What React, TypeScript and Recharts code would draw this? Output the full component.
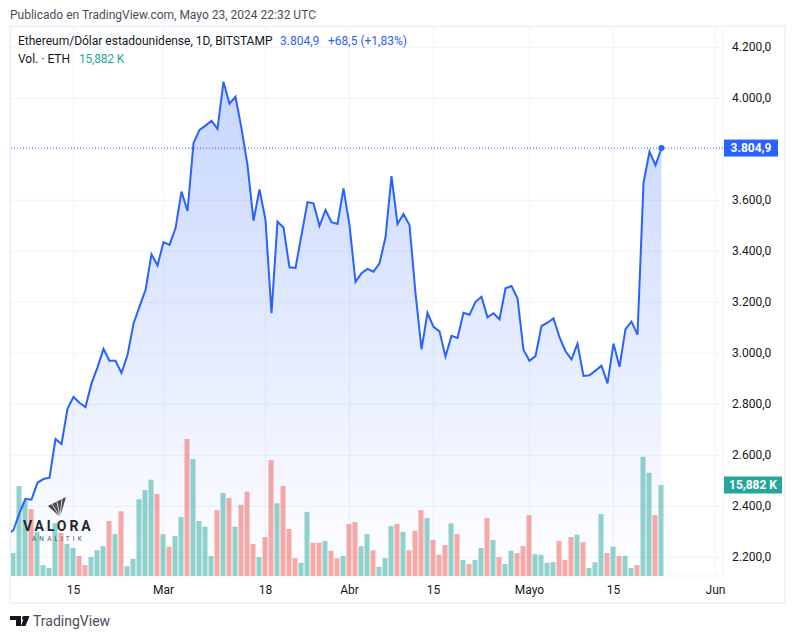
import React from "react";
import {
  ComposedChart,
  Area,
  Bar,
  Line,
  XAxis,
  YAxis,
  CartesianGrid,
  ReferenceLine,
  ReferenceDot,
} from "recharts";

// daily closes, first entry is the day clipped by the left edge (Feb 4)
const closes = [
  2288, 2307, 2374, 2429, 2426, 2493, 2507, 2512, 2664, 2644, 2782, 2829, 2806, 2789, 2882, 2945,
  3017, 2971, 2971, 2923, 2993, 3116, 3183, 3248, 3388, 3344, 3436, 3425, 3490, 3634, 3558, 3824,
  3876, 3893, 3912, 3880, 4065, 3979, 4006, 3882, 3738, 3520, 3643, 3523, 3157, 3516, 3493, 3337,
  3335, 3464, 3593, 3588, 3499, 3562, 3514, 3507, 3647, 3503, 3280, 3314, 3331, 3320, 3353, 3455,
  3695, 3507, 3546, 3503, 3236, 3016, 3159, 3104, 3086, 2987, 3069, 3060, 3159, 3151, 3202, 3222,
  3141, 3157, 3133, 3255, 3264, 3216, 3013, 2971, 2989, 3107, 3120, 3137, 3063, 3008, 2976, 3038,
  2911, 2914, 2932, 2951, 2882, 3038, 2947, 3095, 3124, 3073, 3667, 3791, 3737, 3804.9,
];

// volume in thousands of ETH, from Feb 5
const volumes = [
  4.0, 15.7, 13.1, 11.7, 7.7, 1.9, 1.4, 9.2, 7.5, 5.6, 4.9, 3.5, 1.9, 3.3, 4.5, 5.2, 9.6, 7.3,
  11.3, 1.7, 3.0, 13.4, 15.0, 16.8, 14.3, 7.3, 5.1, 7.0, 10.3, 23.9, 20.4, 9.6, 8.6, 3.5, 11.5,
  14.5, 13.6, 8.6, 12.4, 14.7, 5.6, 3.3, 6.8, 20.2, 12.7, 15.7, 8.2, 3.1, 2.3, 11.2, 5.8, 5.8, 6.1,
  4.4, 3.1, 3.5, 9.1, 9.4, 5.2, 7.3, 4.5, 1.6, 3.1, 8.7, 9.1, 7.7, 4.5, 7.9, 11.5, 10.1, 6.3, 3.7,
  5.4, 9.2, 7.3, 2.8, 2.1, 2.8, 4.9, 10.1, 6.3, 3.3, 2.1, 4.4, 4.0, 5.2, 10.6, 3.8, 3.7, 2.3, 2.4,
  6.1, 2.8, 6.8, 7.2, 5.9, 1.4, 2.4, 10.8, 4.0, 5.1, 3.5, 3.5, 1.4, 1.9, 20.8, 18.0, 10.6, 15.882,
];

// t = teal bar, r = red bar
const volumeColors =
  "tttrttttrttrrtttrtrtttttrtrttrttttrtrtrrrtrrtrrrttrrtrrtrrttrtttrtrrrtrrrtrtrttrtrttrrrttttrrrtrtttrtrttrttrt";

const xTicks = [10, 25, 42, 56, 70, 86, 100, 117];
const xLabels = ["15", "Mar", "18", "Abr", "15", "Mayo", "15", "Jun"];
const priceTicks = [2200, 2400, 2600, 2800, 3000, 3200, 3400, 3600, 3800, 4000, 4200];
// 3.800,0 sits under the last price tag, so it has no label
const priceLabels = [
  "2.200,0", "2.400,0", "2.600,0", "2.800,0", "3.000,0", "3.200,0",
  "3.400,0", "3.600,0", "", "4.000,0", "4.200,0",
];
const lastClose = 3804.9;
const lastVolume = 15.882;

const rows = closes.map((close, i) => {
  const vol = i > 0 ? volumes[i - 1] : null;
  const isTeal = i > 0 && volumeColors[i - 1] === "t";
  return {
    day: i - 1,
    close,
    volTeal: isTeal ? vol : null,
    volRed: !isTeal ? vol : null,
  };
});

const FONT = "Roboto, sans-serif";
const GRID = "#f0f3fa";
const BLUE = "#2962ff";
const TEAL = "#26a69a";

const AxisTag = ({ viewBox, text, fill, width }: any) => {
  if (!viewBox) return null;
  const x = viewBox.x + viewBox.width + 1;
  const y = viewBox.y;
  return (
    <g>
      <rect x={x} y={y - 8.5} width={width} height={17} fill={fill} />
      <text
        x={x + width / 2}
        y={y + 4}
        textAnchor="middle"
        fontFamily={FONT}
        fontSize={12}
        fontWeight={700}
        fill="#ffffff"
      >
        {text}
      </text>
    </g>
  );
};

const label = (left: number, top: number, color: string, fontSize = 12, lineHeight = 16): React.CSSProperties => ({
  position: "absolute",
  left,
  top,
  color,
  fontSize,
  fontFamily: FONT,
  lineHeight: `${lineHeight}px`,
  whiteSpace: "nowrap",
});

export default function App() {
  return (
    <div style={{ position: "absolute", left: 0, top: 0, width: 796, height: 639, background: "#fff", overflow: "hidden" }}>
      <div style={{ position: "absolute", left: 9, top: 25, width: 777, height: 579, boxSizing: "border-box", border: `2px solid ${GRID}` }} />

      <div style={{ position: "absolute", left: 0, top: 0 }}>
        <ComposedChart
          width={796}
          height={639}
          data={rows}
          margin={{ top: 27, right: 11, bottom: 36, left: 11 }}
        >
          <defs>
            <linearGradient id="closeFill" x1="0" y1="0" x2="0" y2="1">
              <stop offset="0%" stopColor={BLUE} stopOpacity={0.26} />
              <stop offset="100%" stopColor={BLUE} stopOpacity={0} />
            </linearGradient>
          </defs>
          <CartesianGrid yAxisId="price" stroke={GRID} strokeWidth={1} />
          <XAxis
            dataKey="day"
            type="number"
            scale="linear"
            domain={[-0.4167, 118.25]}
            allowDataOverflow
            ticks={xTicks}
            interval={0}
            tickFormatter={(v: number) => xLabels[xTicks.indexOf(v)]}
            height={27}
            tickLine={false}
            axisLine={false}
            tickSize={0}
            tickMargin={9}
            tick={{ fill: "#131722", fontSize: 12, fontFamily: FONT }}
          />
          <YAxis
            yAxisId="price"
            orientation="right"
            width={62}
            domain={[2126.7, 4279.6]}
            allowDataOverflow
            ticks={priceTicks}
            interval={0}
            tickFormatter={(v: number) => priceLabels[priceTicks.indexOf(v)]}
            tickLine={false}
            axisLine={false}
            tickSize={0}
            tickMargin={9}
            tick={{ fill: "#131722", fontSize: 12, fontFamily: FONT, textAnchor: "start", dy: -1 }}
          />
          <YAxis yAxisId="vol" hide domain={[0, 95.8]} allowDataOverflow />
          <Area
            yAxisId="price"
            dataKey="close"
            type="linear"
            stroke="none"
            fill="url(#closeFill)"
            fillOpacity={1}
            dot={false}
            activeDot={false}
            isAnimationActive={false}
          />
          <Bar yAxisId="vol" dataKey="volTeal" stackId="vol" barSize={5} fill={TEAL} fillOpacity={0.5} isAnimationActive={false} />
          <Bar yAxisId="vol" dataKey="volRed" stackId="vol" barSize={5} fill="#ef5350" fillOpacity={0.5} isAnimationActive={false} />
          <ReferenceLine
            yAxisId="price"
            y={lastClose}
            stroke={BLUE}
            strokeWidth={1}
            strokeDasharray="1 2"
            label={<AxisTag text="3.804,9" fill={BLUE} width={54} />}
          />
          <ReferenceLine
            yAxisId="vol"
            y={lastVolume}
            stroke="none"
            label={<AxisTag text="15,882 K" fill={TEAL} width={58} />}
          />
          <Line
            yAxisId="price"
            dataKey="close"
            type="linear"
            stroke={BLUE}
            strokeWidth={2}
            dot={false}
            activeDot={false}
            isAnimationActive={false}
          />
          <ReferenceDot yAxisId="price" x={108} y={lastClose} r={3} fill={BLUE} stroke="none" />
        </ComposedChart>
      </div>

      <div style={label(10, 7, "#4a4e5a")}>Publicado en TradingView.com, Mayo 23, 2024 22:32 UTC</div>
      <div style={label(18, 33, "#131722")}>Ethereum/Dólar estadounidense, 1D, BITSTAMP</div>
      <div style={label(280, 33, BLUE)}>3.804,9</div>
      <div style={label(328, 33, BLUE)}>+68,5 (+1,83%)</div>
      <div style={label(18, 51, "#131722")}>Vol. · ETH</div>
      <div style={{ ...label(79, 51, TEAL), letterSpacing: -0.2 }}>15,882 K</div>

      {/* Valora watermark */}
      <svg style={{ position: "absolute", left: 46, top: 495 }} width={22} height={24}>
        <polygon points="2,11 20,2 14,22" fill="#4a4a52" />
        <line x1="14" y1="22" x2="6" y2="9" stroke="#fff" strokeWidth={0.8} />
        <line x1="14" y1="22" x2="11" y2="7" stroke="#fff" strokeWidth={0.8} />
        <line x1="14" y1="22" x2="16" y2="4" stroke="#fff" strokeWidth={0.8} />
      </svg>
      <div style={{ ...label(23, 520, "#26262c", 14, 12), fontWeight: 700, letterSpacing: 2.9 }}>VALORA</div>
      <div style={{ ...label(32, 535.5, "#55555c", 6.5, 7), letterSpacing: 3.1 }}>ANALITIK</div>

      {/* TradingView logo */}
      <svg style={{ position: "absolute", left: 10, top: 616 }} width={20} height={11}>
        <polygon points="0,0 11,0 11,10 6,10 6,4 0,4" fill="#131722" />
        <circle cx="14" cy="2" r="2" fill="#131722" />
        <polygon points="15,10 19,0 14,0 10.5,10" fill="#131722" transform="translate(0.5,0)" />
      </svg>
      <div style={label(33, 613, "#4a4e5a", 14)}>TradingView</div>
    </div>
  );
}
